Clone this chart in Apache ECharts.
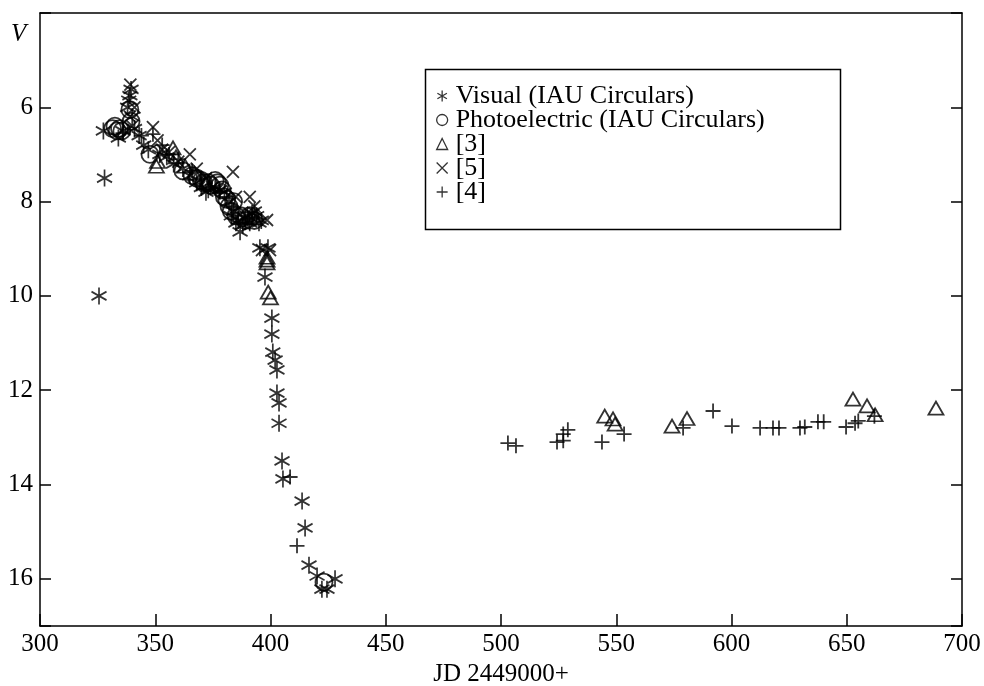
<!DOCTYPE html>
<html>
<head>
<meta charset="utf-8">
<script src="https://cdn.jsdelivr.net/npm/echarts@6/dist/echarts.min.js"></script>
<style>
html,body{margin:0;padding:0;background:#fff;}
#chart{width:984px;height:686px;}
</style>
</head>
<body>
<div id="chart"></div>
<script>
// ---- Data (JD 2449000+, V magnitude) ----
var visualIAU = [
  [325.6,10.0],[327.5,6.5],[328,7.5],[334,6.65],[336,6.5],[338,6.0],[338.5,5.85],[339,5.75],
  [339.5,5.62],[340,6.2],[341,6.45],[343,6.6],[345,6.8],[347,6.9],[352,7.0],[355,7.05],
  [358,7.2],[362,7.3],[365,7.45],[368,7.6],[370,7.7],[372,7.8],[373,7.75],[376,7.7],[378,7.75],
  [380,7.8],[382,8.0],[383,8.3],[384,8.2],[385,8.45],[386,8.4],[386.8,8.64],[388,8.5],[389,8.35],
  [390,8.3],[391,8.45],[392,8.25],[393,8.2],[394,8.3],[395,8.45],
  [396,8.4],[395.4,8.98],[398.9,8.98],[397.6,9.6],[400.6,10.47],[400.6,10.81],[401,11.19],
  [402,11.36],[402.8,11.57],[402.8,12.06],[403.7,12.27],[403.7,12.7],[405,13.5],[405.4,13.88],
  [413.7,14.35],[415,14.92],[416.7,15.71],[420.2,15.94],[422.3,16.22],[424.5,16.22],[428,16.0]
];
var photoIAU = [
  [331.5,6.45],[332.5,6.4],[333.5,6.5],[334.5,6.45],[335.5,6.5],[339,6.05],[339.5,6.3],[347.7,7.0],
  [362,7.35],[366,7.45],[368,7.5],[370,7.55],[371,7.6],[373,7.6],[374,7.65],[376,7.55],[377,7.6],
  [378,7.65],[379,7.75],[380,7.9],[381,7.95],[382,8.1],[383,8.2],[384,8.0],[385,8.3],
  [387,8.3],[389,8.4],[391,8.3],[393,8.4],[423.2,16.07]
];
var ref3 = [
  [350.5,7.25],[351,7.15],[357.7,6.86],[359,7.05],[363,7.25],[367,7.4],[372,7.6],[393,8.35],
  [398.5,9.18],[398.5,9.24],[398.5,9.3],[399,9.92],[400,10.04],
  [545,12.55],[548.6,12.61],[549.5,12.72],[574.2,12.76],[580.7,12.6],
  [652.7,12.19],[658.8,12.33],[662.3,12.52],[688.7,12.38]
];
var ref5 = [
  [339.2,5.52],[339,6.2],[340,6.4],[341,6.0],[349,6.42],[351,6.7],[353,6.9],[356,6.95],
  [360,7.15],[365,7.0],[368,7.3],[372,7.5],[375,7.7],[383.7,7.37],[385,7.9],[391,7.9],
  [393,8.1],[398.5,8.39],[396.3,9.03],[399.8,9.03]
];
var ref4 = [
  [336,6.55],[344,6.6],[349,6.57],[353,6.8],[356,7.0],[360,7.1],[366,7.35],[370,7.5],
  [374,7.7],[378,7.8],[381,7.9],[383,8.1],[386,8.3],[389,8.45],[392,8.35],[408.5,13.84],[411.5,15.3],
  [503,13.12],[506.5,13.18],[524.3,13.1],[527,13.07],[527,12.93],[529,12.84],[543.8,13.1],
  [553.4,12.93],[579,12.8],[592,12.44],[600.2,12.76],[612.4,12.8],[618,12.8],[620.6,12.8],
  [629.7,12.8],[631.8,12.78],[637.5,12.67],[640,12.67],[649.7,12.78],[653.6,12.7],[655,12.65],[662,12.55]
];
var seriesNames = ['Visual (IAU Circulars)','Photoelectric (IAU Circulars)','[3]','[5]','[4]'];
var xTicks = {min:300, max:700, step:50};
var yTicks = {min:4, max:17, step:2};

var FONT = "'Liberation Serif','Times New Roman',serif";
var ASTER = 'path://M0,-10L0,10M-8.66,-5L8.66,5M-8.66,5L8.66,-5';
var CROSS = 'path://M-1,-1L1,1M-1,1L1,-1';
var PLUS  = 'path://M-1,0L1,0M0,-1L0,1';

function mk(name, data, symbol, size, bw) {
  return {
    name: name, type: 'scatter', data: data, symbol: symbol, symbolSize: size,
    itemStyle: {color: 'rgba(0,0,0,0)', borderColor: '#000', borderWidth: bw || 1.8},
    emphasis: {disabled: true}, silent: true, xAxisIndex: 0, yAxisIndex: 0
  };
}
function legendItem(name, icon) {
  return {name: name, icon: icon, itemStyle: {color: 'rgba(0,0,0,0)', borderColor: '#000', borderWidth: 1.3}};
}

var chart = echarts.init(document.getElementById('chart'), null, {renderer: 'canvas'});
chart.setOption({
  animation: false,
  backgroundColor: '#fff',
  textStyle: {fontFamily: FONT, color: '#000'},
  grid: {left: 40, right: 22, top: 13, bottom: 60, containLabel: false, outerBoundsMode: 'none'},
  xAxis: [{
    type: 'value', min: xTicks.min, max: xTicks.max, interval: xTicks.step, position: 'bottom',
    axisLine: {show: true, lineStyle: {color: '#000', width: 1.5}},
    axisTick: {show: true, inside: true, length: 12, lineStyle: {color: '#000', width: 1.5}},
    axisLabel: {color: '#000', fontFamily: FONT, fontSize: 25, margin: 6},
    splitLine: {show: false},
    name: 'JD 2449000+', nameLocation: 'middle', nameGap: 34,
    nameTextStyle: {color: '#000', fontFamily: FONT, fontSize: 25}
  }, {
    type: 'value', min: xTicks.min, max: xTicks.max, interval: xTicks.step, position: 'top',
    axisLine: {show: true, lineStyle: {color: '#000', width: 1.5}},
    axisTick: {show: false}, axisLabel: {show: false}, splitLine: {show: false}
  }],
  yAxis: [{
    type: 'value', inverse: true, min: yTicks.min, max: yTicks.max, interval: yTicks.step, position: 'left',
    axisLine: {show: true, lineStyle: {color: '#000', width: 1.5}},
    axisTick: {show: true, inside: true, length: 11, lineStyle: {color: '#000', width: 1.5}},
    axisLabel: {color: '#000', fontFamily: FONT, fontSize: 25, margin: 7,
      formatter: function (v) { return (v >= 6 && v <= 16) ? String(v) : ''; }},
    splitLine: {show: false}
  }, {
    type: 'value', inverse: true, min: yTicks.min, max: yTicks.max, interval: yTicks.step, position: 'right',
    axisLine: {show: true, lineStyle: {color: '#000', width: 1.5}},
    axisTick: {show: true, inside: true, length: 11, lineStyle: {color: '#000', width: 1.5}},
    axisLabel: {show: false}, splitLine: {show: false}
  }],
  legend: {
    orient: 'vertical', left: 436, top: 83, padding: 0, itemGap: -2,
    itemWidth: 11, itemHeight: 11, selectedMode: false,
    textStyle: {color: '#000', fontFamily: FONT, fontSize: 26, padding: [0, 0, 0, 3]},
    data: [
      legendItem(seriesNames[0], ASTER),
      legendItem(seriesNames[1], 'circle'),
      legendItem(seriesNames[2], 'triangle'),
      legendItem(seriesNames[3], CROSS),
      legendItem(seriesNames[4], PLUS)
    ]
  },
  graphic: [
    {type: 'rect', left: 423, top: 67, shape: {width: 415, height: 160},
     style: {fill: 'none', stroke: '#000', lineWidth: 1.5}, z: 10},
    {type: 'text', left: 11, top: 22,
     style: {text: 'V', font: "italic 25px 'Liberation Serif','Times New Roman',serif", fill: '#000'}}
  ],
  series: [
    mk(seriesNames[0], visualIAU, ASTER, [15, 17]),
    mk(seriesNames[1], photoIAU, 'circle', 17),
    mk(seriesNames[2], ref3, 'triangle', [15, 13]),
    mk(seriesNames[3], ref5, CROSS, 12),
    mk(seriesNames[4], ref4, PLUS, 15)
  ]
});
</script>
</body>
</html>
